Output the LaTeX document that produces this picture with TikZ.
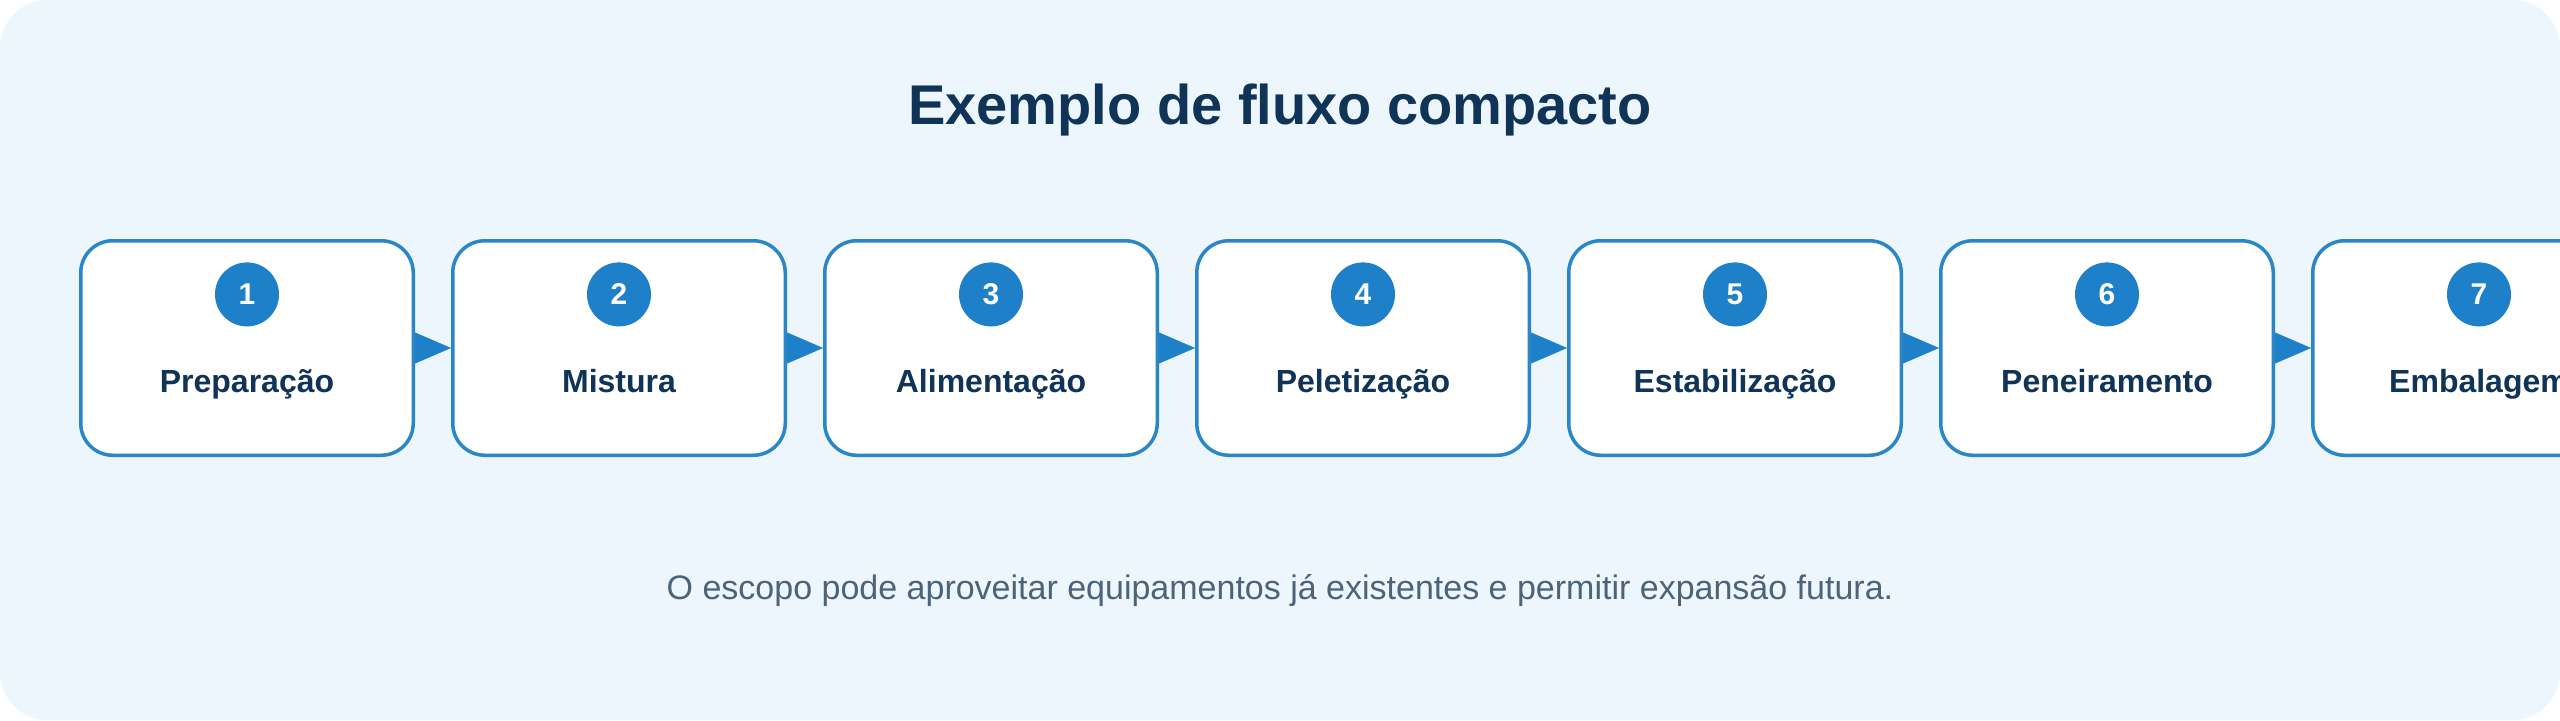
\documentclass[tikz,border=0pt]{standalone}
\usepackage{fontspec}
\setmainfont{Liberation Sans}
\usepackage{tikz}
\usetikzlibrary{positioning,arrows.meta}
\definecolor{bgblue}{RGB}{237,246,253}
\definecolor{stageline}{RGB}{42,134,199}
\definecolor{badgeblue}{RGB}{30,128,200}
\definecolor{darktext}{RGB}{15,52,87}
\definecolor{greytext}{RGB}{77,99,120}

\begin{document}
\begin{tikzpicture}[node distance=18pt,
        flow/.style={-{Triangle[length=18pt,width=15.5pt]}, draw=badgeblue, fill=badgeblue, line width=0.1pt}]
      \tikzstyle{stage} = [draw=stageline, line width=1.75pt, fill=white, rounded corners=16pt,
                           minimum width=166.25pt, minimum height=107.25pt, inner sep=0pt]
      \tikzstyle{badge} = [circle, fill=badgeblue, minimum size=32pt, inner sep=0pt,
                           text=white, font=\fontsize{15}{17}\selectfont\bfseries]
      \tikzstyle{stageword} = [anchor=base, inner sep=0pt, text=darktext,
                               font=\fontsize{16}{19}\selectfont\bfseries]
      \tikzstyle{heading} = [anchor=base, inner sep=0pt, text=darktext,
                             font=\fontsize{28}{32}\selectfont\bfseries]
      \tikzstyle{note} = [anchor=base, inner sep=0pt, text=greytext,
                          font=\fontsize{17}{20}\selectfont]
      \useasboundingbox (0,0) rectangle (1280pt,360pt);
      \fill[white] (0,0) rectangle (1280pt,360pt);
      \clip (0,0) rectangle (1280pt,360pt);
      \fill[bgblue, rounded corners=24pt] (0,0) rectangle (1280pt,360pt);
      \node (title) [heading] at (640pt,298pt) {Exemplo de fluxo compacto};
      \node (s1) [stage] at (123.5pt,186pt) {};
      \node (s2) [stage, right=of s1] {};
      \node (s3) [stage, right=of s2] {};
      \node (s4) [stage, right=of s3] {};
      \node (s5) [stage, right=of s4] {};
      \node (s6) [stage, right=of s5] {};
      \node (s7) [stage, right=of s6] {};
      \node (b1) [badge, below=11.5pt of s1.north] {1};
      \node (b2) [badge, below=11.5pt of s2.north] {2};
      \node (b3) [badge, below=11.5pt of s3.north] {3};
      \node (b4) [badge, below=11.5pt of s4.north] {4};
      \node (b5) [badge, below=11.5pt of s5.north] {5};
      \node (b6) [badge, below=11.5pt of s6.north] {6};
      \node (b7) [badge, below=11.5pt of s7.north] {7};
      \node (w1) [stageword] at ([yshift=32.5pt]s1.south) {Preparação};
      \node (w2) [stageword] at ([yshift=32.5pt]s2.south) {Mistura};
      \node (w3) [stageword] at ([yshift=32.5pt]s3.south) {Alimentação};
      \node (w4) [stageword] at ([yshift=32.5pt]s4.south) {Peletização};
      \node (w5) [stageword] at ([yshift=32.5pt]s5.south) {Estabilização};
      \node (w6) [stageword] at ([yshift=32.5pt]s6.south) {Peneiramento};
      \node (w7) [stageword] at ([yshift=32.5pt]s7.south) {Embalagem};
      \draw[flow] (s1) -- (s2);
      \draw[flow] (s2) -- (s3);
      \draw[flow] (s3) -- (s4);
      \draw[flow] (s4) -- (s5);
      \draw[flow] (s5) -- (s6);
      \draw[flow] (s6) -- (s7);
      \node (note) [note] at (640pt,60.5pt) {O escopo pode aproveitar equipamentos já existentes e permitir expansão futura.};
    \end{tikzpicture}
\end{document}
